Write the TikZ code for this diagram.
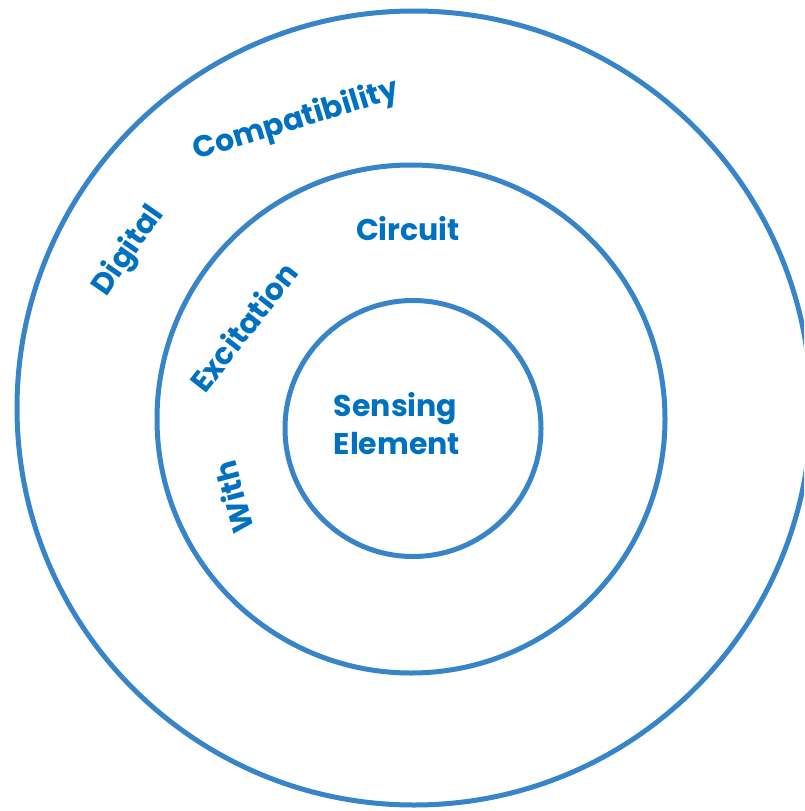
\documentclass[tikz,border=0pt]{standalone}
\usepackage{fontspec}
\setmainfont{Poppins}
\definecolor{ringblue}{HTML}{3884C9}
\definecolor{txtblue}{HTML}{0070C0}
\begin{document}
\begin{tikzpicture}[x=1pt,y=-1pt,
  ringc/.style={circle,draw=ringblue,line width=5pt,inner sep=0pt},
  lbl/.style={text=txtblue,font=\fontsize{30}{38}\selectfont\bfseries,inner sep=0pt}]
\useasboundingbox (0,0) rectangle (804,811);
\clip (0,0) rectangle (804,811);
\node[ringc,minimum size=794pt] (outer) at (414,408) {};
\node[ringc,minimum size=508pt] (middle) at (411,419) {};
\node[ringc,minimum size=256pt] (inner) at (413,428.5) {};
\node[lbl,align=left] (sensing) at (397,424) {Sensing\\Element};
\node[lbl] (circuit) at (408,229) {Circuit};
\node[lbl,rotate=52] (excitation) at (243,327) {Excitation};
\node[lbl,rotate=105] (with) at (233,497) {With};
\node[lbl,rotate=55] (digital) at (129,251) {Digital};
\node[lbl,rotate=17] (compat) at (296,121) {Compatibility};
\end{tikzpicture}
\end{document}
